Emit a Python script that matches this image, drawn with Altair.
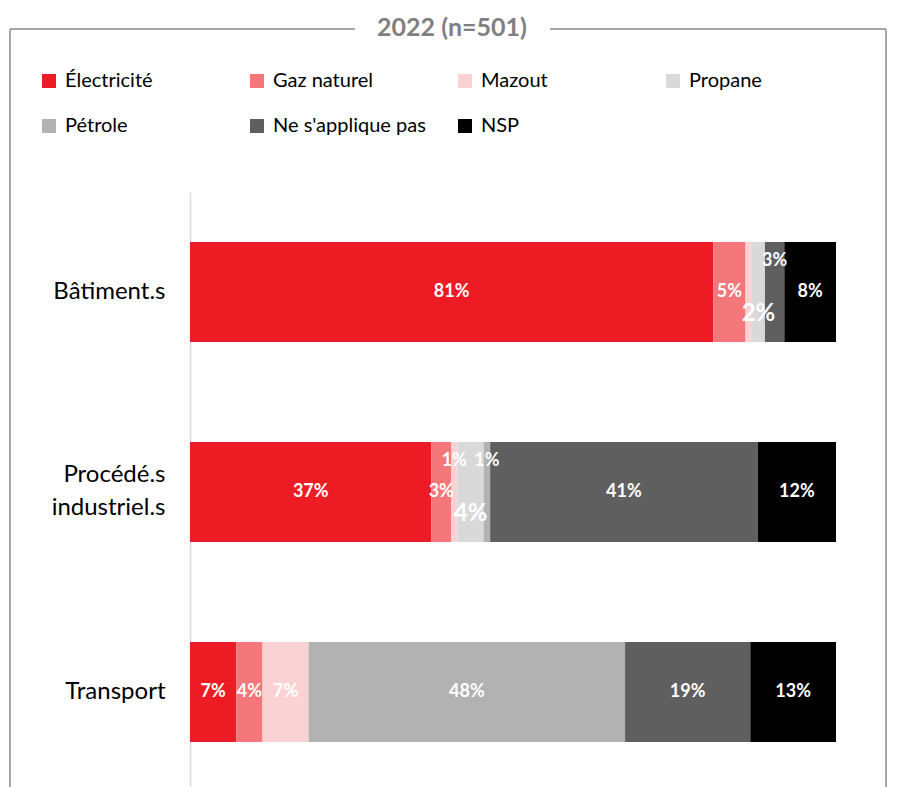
import altair as alt
import pandas as pd

categories = ["Bâtiment.s", "Procédé.s industriel.s", "Transport"]
series = ["Électricité", "Gaz naturel", "Mazout", "Propane", "Pétrole",
          "Ne s'applique pas", "NSP"]
colors = ["#ED1C24", "#F4777A", "#FAD2D3", "#D9D9D9", "#B2B2B2", "#5F5F5F", "#000000"]

batiment = [81, 5, 1, 2, 0, 3, 8]
procede = [37, 3, 1, 4, 1, 41, 12]
transport = [7, 4, 7, 0, 48, 19, 13]

title_text = "2022 (n=501)"

# label placement for narrow segments
placement = {
    ("Bâtiment.s", "Mazout"): "aucun",
    ("Bâtiment.s", "Propane"): "bas",
    ("Bâtiment.s", "Ne s'applique pas"): "haut",
    ("Procédé.s industriel.s", "Mazout"): "haut",
    ("Procédé.s industriel.s", "Propane"): "bas",
    ("Procédé.s industriel.s", "Pétrole"): "haut",
}

rows = []
for cat, vals in zip(categories, [batiment, procede, transport]):
    for i, (s, v) in enumerate(zip(series, vals)):
        pos = placement.get((cat, s), "centre")
        if v == 0:
            pos = "aucun"
        rows.append({"cat": cat, "serie": s, "ord": i, "value": v,
                     "label": f"{v}%", "pos": pos})
df = pd.DataFrame(rows)

FONT = "Lato"

base = alt.Chart(df).transform_stack(
    stack="value", groupby=["cat"], as_=["x0", "x1"], offset="normalize",
    sort=[alt.SortField("ord", order="ascending")]
).transform_calculate(mid="(datum.x0 + datum.x1) / 2")

yenc = alt.Y(
    "cat:N", sort=categories,
    scale=alt.Scale(domain=categories, paddingInner=0.5, paddingOuter=0.25),
    axis=alt.Axis(title=None, ticks=False, domainColor="#D9D9D9", domainWidth=1.5,
                  labelFontSize=24, labelFont=FONT, labelColor="#000000",
                  labelPadding=25, labelLineHeight=33,
                  labelOffset={"condition": {"test": "indexof(datum.value, ' ') > 0",
                                             "value": -17}, "value": 0},
                  labelExpr="split(datum.value, ' ')"),
)

bars = base.mark_bar().encode(
    x=alt.X("x0:Q", scale=alt.Scale(domain=[0, 1]), axis=None),
    x2="x1:Q",
    y=yenc,
    color=alt.Color(
        "serie:N",
        scale=alt.Scale(domain=series, range=colors),
        legend=alt.Legend(
            title=None, orient="none", legendX=-151, legendY=-121,
            direction="horizontal", columns=4, symbolType="square",
            symbolSize=196, symbolStrokeWidth=0, labelFontSize=20,
            labelFont=FONT, labelColor="#000000", gridAlign="all",
            columnPadding=29, rowPadding=25, labelOffset=6, labelLimit=300,
        ),
    ),
)

def labels(pos, dy, size):
    return base.transform_filter(alt.datum.pos == pos).mark_text(
        color="white", fontWeight="bold", fontSize=size, font=FONT, dy=dy,
        baseline="middle", align="center"
    ).encode(
        x=alt.X("mid:Q", scale=alt.Scale(domain=[0, 1]), axis=None),
        y=alt.Y("cat:N", sort=categories),
        text="label:N",
    )

lab_c = labels("centre", 0, 18)
lab_h = labels("haut", -31, 18)
lab_b = labels("bas", 22, 24)

deco = alt.Chart(pd.DataFrame({"a": [0]}))
BORDER = "#A6A6A6"
r1 = deco.mark_rule(color=BORDER, strokeWidth=2).encode(
    x=alt.value(-180), x2=alt.value(165), y=alt.value(-163))
r2 = deco.mark_rule(color=BORDER, strokeWidth=2).encode(
    x=alt.value(360), x2=alt.value(696), y=alt.value(-163))
r3 = deco.mark_rule(color=BORDER, strokeWidth=2).encode(
    x=alt.value(-180), y=alt.value(-163), y2=alt.value(620))
r4 = deco.mark_rule(color=BORDER, strokeWidth=2).encode(
    x=alt.value(696), y=alt.value(-163), y2=alt.value(620))
ttl = deco.mark_text(fontSize=25, fontWeight="bold", color="#808080", font=FONT,
                     baseline="middle", align="center").encode(
    x=alt.value(262), y=alt.value(-164), text=alt.value(title_text))

chart = alt.layer(r1, r2, r3, r4, ttl, bars, lab_c, lab_h, lab_b).properties(
    width=646, height=600,
    padding={"left": 1, "top": 8, "right": 5, "bottom": 0},
).configure_view(stroke=None)

chart.save("out.html", embed_options={"renderer": "svg", "actions": False})
